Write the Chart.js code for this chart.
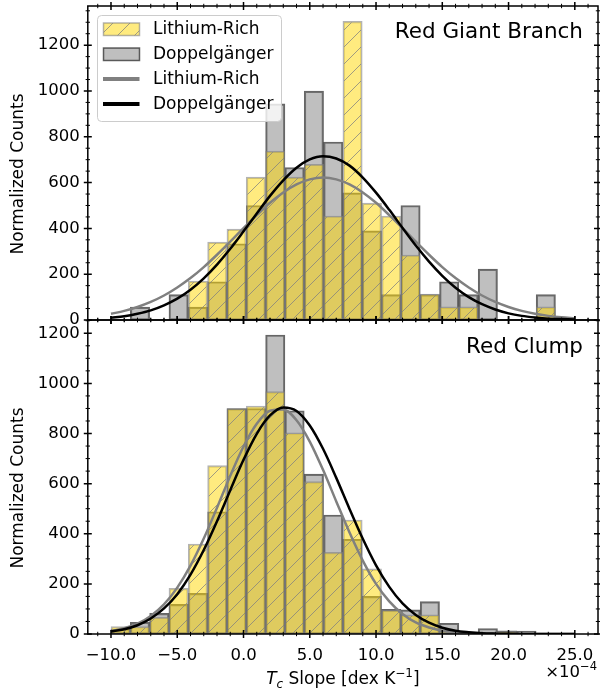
<!DOCTYPE html>
<html lang="en">
<head>
<meta charset="UTF-8" />
<title>Tc slope histograms</title>
<style>
  html, body { margin: 0; padding: 0; background: #fff; }
  body { width: 600px; height: 692px; position: relative; overflow: hidden; }
  canvas { position: absolute; left: 0; }
  #top { top: 0; }
  #bottom { top: 314px; }
</style>
</head>
<body>
<canvas id="top" width="600" height="330"></canvas>
<canvas id="bottom" width="600" height="378"></canvas>

<script src="https://cdn.jsdelivr.net/npm/chart.js@4.4.0/dist/chart.umd.min.js"></script>
<script>
// histogram bin edges, in units of 1e-4 dex/K
const BIN_EDGES = [-10.0, -8.542, -7.083, -5.625, -4.167, -2.708, -1.25, 0.208, 1.667, 3.125,
  4.583, 6.042, 7.5, 8.958, 10.417, 11.875, 13.333, 14.792, 16.25, 17.708, 19.167, 20.625,
  22.083, 23.542, 25.0];

// Red Giant Branch histograms (normalized counts per bin)
const RGB_LI = [0, 0, 0, 0, 170, 340, 397, 624, 737, 624, 680, 454, 1304, 510, 454, 284, 113, 57, 57, 0, 0, 0, 57, 0];
const RGB_DOP = [0, 56, 0, 111, 56, 167, 333, 500, 944, 666, 999, 777, 555, 389, 111, 500, 111, 167, 111, 222, 0, 0, 111, 0];

// Red Clump histograms
const RC_LI = [30, 30, 67, 182, 359, 672, 900, 910, 967, 803, 608, 326, 455, 260, 95, 76, 76, 10, 0, 0, 10, 0, 0, 0];
const RC_DOP = [20, 47, 82, 118, 162, 488, 900, 900, 1193, 891, 638, 475, 378, 150, 98, 96, 129, 43, 0, 22, 13, 12, 0, 0];

const CURVE_X = [-10, -9, -8, -7, -6, -5, -4, -3, -2, -1, 0, 1, 2, 3, 4, 5, 6, 7, 8, 9,
  10, 11, 12, 13, 14, 15, 16, 17, 18, 19, 20, 21, 22, 23, 24, 25];
const RGB_LI_FIT = [27, 40, 57, 79, 107, 142, 183, 231, 285, 342, 401, 458, 512, 557, 592, 614, 622, 614, 592, 557,
  512, 458, 401, 342, 285, 231, 183, 142, 107, 79, 57, 40, 27, 18, 12, 8];
const RGB_DOP_FIT = [10, 16, 27, 42, 64, 93, 132, 182, 242, 311, 387, 465, 542, 610, 665, 701, 715, 705, 674, 622,
  556, 481, 402, 325, 255, 193, 141, 100, 69, 46, 29, 18, 11, 6, 4, 2];
const RC_LI_FIT = [12, 23, 41, 72, 118, 185, 273, 381, 504, 631, 748, 839, 891, 896, 853, 768, 655, 529, 405, 293,
  200, 130, 80, 46, 26, 13, 7, 3, 1, 0.5, 0.2, 0.1, 0, 0, 0, 0];
const RC_DOP_FIT = [10, 19, 35, 62, 102, 159, 237, 335, 450, 574, 695, 799, 872, 904, 890, 832, 739, 623, 499, 380,
  274, 188, 122, 76, 45, 25, 13, 7, 3, 1.4, 0.6, 0.2, 0.1, 0, 0, 0];

const X_TICKS = [-10, -5, 0, 5, 10, 15, 20, 25];
const Y_TICKS = [0, 200, 400, 600, 800, 1000, 1200];
const LABEL_LI = "Lithium-Rich";
const LABEL_DOP = "Doppelgänger";

const FONT = "'DejaVu Sans', sans-serif";
Chart.defaults.font.family = FONT;
Chart.defaults.color = "#000";

const GOLD = "rgba(255, 215, 0, 0.5)";
const GOLD_EDGE = "rgba(128, 128, 128, 0.6)";
const GRAY = "rgba(128, 128, 128, 0.5)";
const GRAY_EDGE = "rgba(0, 0, 0, 0.6)";

const centers = BIN_EDGES.slice(0, -1).map((e, i) => (e + BIN_EDGES[i + 1]) / 2);
const bars = (vals) => vals.map((v, i) => ({ x: centers[i], y: v > 0 ? v : null }));
const curve = (vals) => CURVE_X.map((x, i) => ({ x, y: vals[i] }));

function makeHatch(ctx) {
  const size = 17;
  const c = document.createElement("canvas");
  c.width = c.height = size;
  const g = c.getContext("2d");
  g.fillStyle = GOLD;
  g.fillRect(0, 0, size, size);
  g.strokeStyle = "rgba(128, 128, 128, 0.75)";
  g.lineWidth = 1;
  g.beginPath();
  g.moveTo(-2, size + 2);
  g.lineTo(size + 2, -2);
  g.moveTo(-2, 2);
  g.lineTo(2, -2);
  g.moveTo(size - 2, size + 2);
  g.lineTo(size + 2, size - 2);
  g.stroke();
  return ctx.createPattern(c, "repeat");
}

// draw a run of text pieces with different fonts / vertical shifts
function drawRuns(ctx, runs, x, baseline, align) {
  let w = 0;
  for (const r of runs) {
    ctx.font = r.font;
    w += ctx.measureText(r.t).width;
  }
  let cx = align === "right" ? x - w : x - w / 2;
  ctx.textAlign = "left";
  ctx.textBaseline = "alphabetic";
  for (const r of runs) {
    ctx.font = r.font;
    ctx.fillText(r.t, cx, baseline + (r.dy || 0));
    cx += ctx.measureText(r.t).width;
  }
}

const frameTicks = {
  id: "frameTicks",
  afterDraw(chart) {
    const { ctx, chartArea: a, scales: { x, y } } = chart;
    ctx.save();
    ctx.strokeStyle = "#000";
    for (let v = -11; v <= 26; v++) {
      const major = v % 5 === 0;
      const len = major ? 4 : 2.2;
      const px = x.getPixelForValue(v);
      ctx.lineWidth = major ? 1.5 : 1;
      ctx.beginPath();
      ctx.moveTo(px, a.bottom - len);
      ctx.lineTo(px, a.bottom + len);
      ctx.moveTo(px, a.top - len);
      ctx.lineTo(px, a.top + len);
      ctx.stroke();
    }
    for (let v = 0; v <= y.max; v += 50) {
      const major = v % 200 === 0;
      const len = major ? 4 : 2.2;
      const py = y.getPixelForValue(v);
      ctx.lineWidth = major ? 1.5 : 1;
      ctx.beginPath();
      ctx.moveTo(a.left - len, py);
      ctx.lineTo(a.left + len, py);
      ctx.moveTo(a.right - len, py);
      ctx.lineTo(a.right + len, py);
      ctx.stroke();
    }
    ctx.lineWidth = 1.5;
    ctx.strokeRect(a.left, a.top, a.width, a.height);

    // y axis title
    ctx.translate(19, (a.top + a.bottom) / 2 + 11);
    ctx.rotate(-Math.PI / 2);
    ctx.fillStyle = "#000";
    ctx.font = "17px " + FONT;
    ctx.textAlign = "center";
    ctx.textBaseline = "middle";
    ctx.fillText("Normalized Counts", 0, 0);
    ctx.restore();
  },
};

function panelText(text, baseline) {
  return {
    id: "panelText",
    afterDraw(chart) {
      const ctx = chart.ctx;
      ctx.save();
      ctx.fillStyle = "#000";
      ctx.font = "21.5px " + FONT;
      ctx.textAlign = "right";
      ctx.textBaseline = "alphabetic";
      ctx.fillText(text, 583, baseline);
      ctx.restore();
    },
  };
}

const legendBox = {
  id: "legendBox",
  afterDraw(chart) {
    const ctx = chart.ctx;
    const ds = chart.data.datasets;
    const lineLi = ds[1], lineDop = ds[0], barLi = ds[2], barDop = ds[3];
    ctx.save();
    ctx.beginPath();
    ctx.roundRect(97.5, 15.5, 184, 106, 4);
    ctx.fillStyle = "rgba(255, 255, 255, 0.8)";
    ctx.fill();
    ctx.strokeStyle = "#cccccc";
    ctx.lineWidth = 1;
    ctx.stroke();

    const rows = [
      { ds: barLi, kind: "patch", y: 29 },
      { ds: barDop, kind: "patch", y: 54 },
      { ds: lineLi, kind: "line", y: 79 },
      { ds: lineDop, kind: "line", y: 104 },
    ];
    for (const r of rows) {
      if (r.kind === "patch") {
        ctx.fillStyle = r.ds.backgroundColor;
        ctx.fillRect(103.5, r.y - 6, 36, 12.5);
        ctx.strokeStyle = r.ds.borderColor;
        ctx.lineWidth = 1.5;
        ctx.strokeRect(103.5, r.y - 6, 36, 12.5);
      } else {
        ctx.strokeStyle = r.ds.borderColor;
        ctx.lineWidth = 4;
        ctx.beginPath();
        ctx.moveTo(103, r.y);
        ctx.lineTo(139.5, r.y);
        ctx.stroke();
      }
      ctx.fillStyle = "#000";
      ctx.font = "17px " + FONT;
      ctx.textAlign = "left";
      ctx.textBaseline = "middle";
      ctx.fillText(r.ds.label, 153, r.y + 1);
    }
    ctx.restore();
  },
};

const axisText = {
  id: "axisText",
  afterDraw(chart) {
    const ctx = chart.ctx;
    const a = chart.chartArea;
    ctx.save();
    ctx.fillStyle = "#000";
    drawRuns(ctx, [
      { t: "T", font: "italic 17px " + FONT },
      { t: "c", font: "italic 12px " + FONT, dy: 4 },
      { t: " Slope [dex K", font: "17px " + FONT },
      { t: "\u22121", font: "12px " + FONT, dy: -7 },
      { t: "]", font: "17px " + FONT },
    ], (a.left + a.right) / 2, 370, "center");
    drawRuns(ctx, [
      { t: "\u00d710", font: "16.5px " + FONT },
      { t: "\u22124", font: "11.5px " + FONT, dy: -7 },
    ], 597, 363, "right");
    ctx.restore();
  },
};

function noEdgePadding(s) {
  s.paddingTop = 0;
  s.paddingBottom = 0;
  s.paddingLeft = 0;
  s.paddingRight = 0;
}

function panel(canvas, o) {
  const ctx = canvas.getContext("2d");
  return new Chart(canvas, {
    type: "bar",
    data: {
      datasets: [
        {
          type: "line", label: LABEL_DOP, data: curve(o.dopFit),
          borderColor: "#000000", borderWidth: 2.5, pointRadius: 0,
          cubicInterpolationMode: "monotone", order: 0,
        },
        {
          type: "line", label: LABEL_LI, data: curve(o.liFit),
          borderColor: "#808080", borderWidth: 2.5, pointRadius: 0,
          cubicInterpolationMode: "monotone", order: 1,
        },
        {
          label: LABEL_LI, data: bars(o.li),
          backgroundColor: makeHatch(ctx), borderColor: GOLD_EDGE, borderWidth: 1.5,
          borderSkipped: false, grouped: false, barPercentage: 1, categoryPercentage: 1, order: 2,
        },
        {
          label: LABEL_DOP, data: bars(o.dop),
          backgroundColor: GRAY, borderColor: GRAY_EDGE, borderWidth: 1.5,
          borderSkipped: false, grouped: false, barPercentage: 1, categoryPercentage: 1, order: 3,
        },
      ],
    },
    options: {
      responsive: false,
      animation: false,
      layout: { padding: { left: 0, right: 2, top: 6, bottom: 0 } },
      plugins: { legend: { display: false }, tooltip: { enabled: false } },
      scales: {
        x: {
          type: "linear", min: -11.75, max: 26.75, offset: false,
          grid: { display: false, drawTicks: false }, border: { display: false },
          afterBuildTicks: (s) => { s.ticks = X_TICKS.map((v) => ({ value: v })); },
          ticks: {
            display: o.showX, padding: 12, autoSkip: false, maxRotation: 0,
            font: { size: 16.5 },
            callback: (v) => v.toFixed(1).replace("-", "\u2212"),
          },
          afterFit: (s) => { s.height = o.xHeight; noEdgePadding(s); },
        },
        y: {
          min: 0, max: o.yMax,
          grid: { display: false, drawTicks: false }, border: { display: false },
          afterBuildTicks: (s) => { s.ticks = Y_TICKS.map((v) => ({ value: v })); },
          ticks: { padding: 8, font: { size: 16.5 }, callback: (v) => String(v) },
          afterFit: (s) => { s.width = 87.8; noEdgePadding(s); },
        },
      },
    },
    plugins: [frameTicks].concat(o.plugins),
  });
}

panel(document.getElementById("top"), {
  li: RGB_LI, dop: RGB_DOP, liFit: RGB_LI_FIT, dopFit: RGB_DOP_FIT,
  yMax: 1371, showX: false, xHeight: 10,
  plugins: [panelText("Red Giant Branch", 37.5), legendBox],
});

panel(document.getElementById("bottom"), {
  li: RC_LI, dop: RC_DOP, liFit: RC_LI_FIT, dopFit: RC_DOP_FIT,
  yMax: 1253, showX: true, xHeight: 58,
  plugins: [panelText("Red Clump", 38.5), axisText],
});
</script>
</body>
</html>
